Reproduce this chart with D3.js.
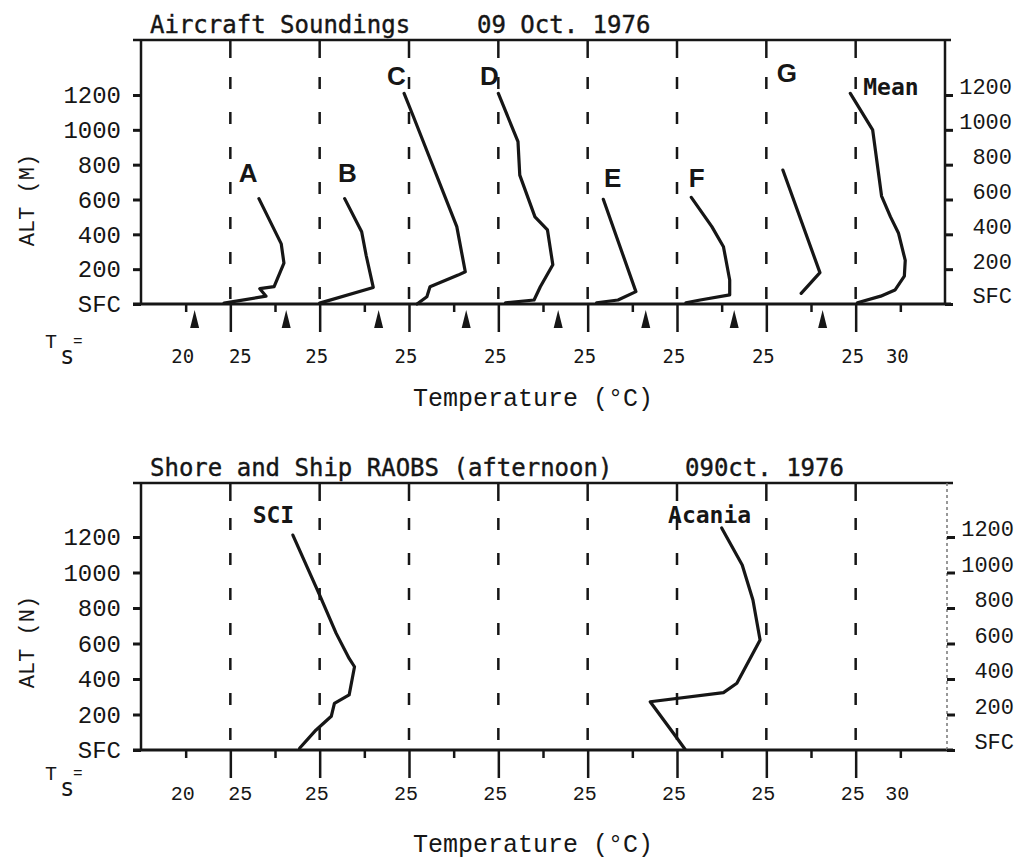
<!DOCTYPE html>
<html>
<head>
<meta charset="utf-8">
<script src="https://cdn.jsdelivr.net/npm/d3@7/dist/d3.min.js"></script>
<style>
  body { margin: 0; background: #fff; }
  svg { display: block; background: #fff; }
  text { fill: #161616; }
</style>
</head>
<body>
<svg id="chart" width="1023" height="860"></svg>
<script>
// Each sounding: [temperature (°C) read against its own column's "25" line, altitude (m)]
// Columns are stacked 10 °C apart along one shared temperature axis.
const columns = ['A', 'B', 'C', 'D', 'E', 'F', 'G', 'Mean'];
const profileA = [[24.3, 5], [29.0, 45], [28.3, 88], [29.9, 100], [31.0, 235], [30.7, 345], [28.2, 605]];
const profileB = [[25.0, 5], [31.0, 95], [30.2, 280], [29.7, 415], [27.8, 605]];
const profileC = [[25.9, 0], [27.0, 42], [27.35, 99], [30.5, 166], [31.3, 185], [30.35, 444], [25.5, 1075], [24.45, 1209]];
const profileD = [[25.8, 7], [29.0, 23], [29.7, 99], [31.1, 225], [30.5, 425], [29.1, 500], [27.4, 740], [27.2, 932], [25.0, 1209]];
const profileE = [[26.0, 7], [28.4, 23], [30.4, 71], [26.75, 601]];
const profileF = [[26.0, 7], [27.6, 23], [30.9, 52], [30.9, 138], [30.2, 329], [28.9, 444], [26.6, 612]];
const profileG = [[28.9, 61], [31.0, 180], [26.85, 769]];
const profileMean = [[25.2, 7], [27.8, 45], [29.4, 80], [30.45, 160], [30.55, 250], [29.8, 406], [28.9, 500], [27.9, 620], [26.9, 1000], [24.4, 1209]];
const aircraftProfiles = [profileA, profileB, profileC, profileD, profileE, profileF, profileG, profileMean];

// sea surface temperature (Ts) under each aircraft column
const surfaceTemps = [21.0, 21.25, 21.6, 21.4, 21.7, 21.5, 21.4, 21.3];

// afternoon radiosondes
const raobNames = ['SCI', 'Acania'];
const raobColumns = [1, 5];
const profileSCI = [[22.75, 10], [24.6, 113], [26.3, 190], [26.65, 263], [28.3, 310], [28.9, 469], [28.3, 516], [26.85, 657], [25.0, 873], [22.0, 1211]];
const profileAcania = [[25.9, 4], [24.6, 94], [22.0, 272], [30.2, 323], [31.7, 376], [34.3, 620], [33.5, 845], [32.3, 1042], [30.0, 1251]];
const raobProfiles = [profileSCI, profileAcania];

// label anchors in data units [temperature in column, altitude]
const aircraftLabelAt = [[27.0, 700], [28.1, 700], [23.6, 1257], [24.0, 1257], [27.8, 672], [27.2, 672], [27.3, 1274], [25.85, 1200]];
const raobLabelAt = [[17.5, 1279], [24.0, 1279]];

const altTicks = [0, 200, 400, 600, 800, 1000, 1200];
const altTickLabels = ['SFC', '200', '400', '600', '800', '1000', '1200'];
const columnLines = [25, 35, 45, 55, 65, 75, 85, 95];
const minorTicks = [20, 30, 40, 50, 60, 70, 80, 90, 100];
const tempTickValues = [20, 25, 35, 45, 55, 65, 75, 85, 95, 100];
const tempTickLabels = ['20', '25', '25', '25', '25', '25', '25', '25', '25', '30'];

const ink = '#161616';
const svg = d3.select('#chart');
const x = d3.scaleLinear().domain([15, 105]).range([141, 945]);
const shift = (k) => 10 * k;

const drawPanel = (p) => {
  const y = d3.scaleLinear().domain([0, 1200]).range([p.sfc, p.y1200]);
  const g = svg.append('g');

  // titles
  g.append('text').attr('x', 150).attr('y', p.titleY)
    .style('font-family', 'DejaVu Sans Mono').style('font-size', '24px')
    .attr('stroke', ink).attr('stroke-width', 0.4)
    .text(p.title1);
  g.append('text').attr('x', p.title2X).attr('y', p.titleY)
    .style('font-family', 'DejaVu Sans Mono').style('font-size', '24px')
    .attr('stroke', ink).attr('stroke-width', 0.4)
    .text(p.title2);

  // column reference lines: solid stub at top, dashes, long tick below axis
  columnLines.forEach((v) => {
    g.append('line').attr('x1', x(v)).attr('x2', x(v)).attr('y1', p.top).attr('y2', p.top + 18)
      .attr('stroke', ink).attr('stroke-width', 2.5);
    g.append('line').attr('x1', x(v)).attr('x2', x(v)).attr('y1', p.dashStart).attr('y2', p.sfc)
      .attr('stroke', ink).attr('stroke-width', 2.5).attr('stroke-dasharray', '12,23');
  });

  // bottom axis ticks
  g.append('g').attr('transform', `translate(0,${p.sfc})`)
    .call(d3.axisBottom(x).tickValues(columnLines).tickSize(28).tickFormat(''))
    .call((a) => a.select('.domain').remove())
    .call((a) => a.selectAll('line').attr('stroke', ink).attr('stroke-width', 2.5));
  g.append('g').attr('transform', `translate(0,${p.sfc})`)
    .call(d3.axisBottom(x).tickValues(minorTicks).tickSize(8).tickFormat(''))
    .call((a) => a.select('.domain').remove())
    .call((a) => a.selectAll('line').attr('stroke', ink).attr('stroke-width', 2.5));

  // frame
  g.append('line').attr('x1', 133).attr('x2', p.right + 6).attr('y1', p.top).attr('y2', p.top)
    .attr('stroke', ink).attr('stroke-width', 2.5);
  g.append('line').attr('x1', 133).attr('x2', p.right + 6).attr('y1', p.sfc).attr('y2', p.sfc)
    .attr('stroke', ink).attr('stroke-width', 3);
  g.append('line').attr('x1', 141).attr('x2', 141).attr('y1', p.top).attr('y2', p.sfc)
    .attr('stroke', ink).attr('stroke-width', 2.5);
  g.append('line').attr('x1', p.right).attr('x2', p.right).attr('y1', p.top).attr('y2', p.sfc)
    .attr('stroke', p.rightColor).attr('stroke-width', p.rightWidth)
    .attr('stroke-dasharray', p.rightDash);

  // altitude axes
  g.append('g').attr('transform', 'translate(141,0)')
    .call(d3.axisLeft(y).tickValues(altTicks).tickSize(8).tickPadding(12)
      .tickFormat((d, i) => altTickLabels[i]))
    .call((a) => a.select('.domain').remove())
    .call((a) => a.selectAll('line').attr('stroke', ink).attr('stroke-width', 3))
    .call((a) => a.selectAll('text').attr('fill', ink)
      .style('font-family', 'Liberation Mono').style('font-size', '24px'));
  g.append('g').attr('transform', `translate(${p.right},0)`)
    .call(d3.axisRight(y).tickValues(altTicks).tickSize(8)
      .tickFormat((d, i) => altTickLabels[i]))
    .call((a) => a.select('.domain').remove())
    .call((a) => a.selectAll('line').attr('stroke', ink).attr('stroke-width', 3))
    .call((a) => a.selectAll('text').attr('fill', p.rightText).attr('x', 67).attr('dy', '-0.05em')
      .attr('text-anchor', 'end')
      .style('font-family', 'Liberation Mono').style('font-size', '22px'));

  // temperature labels
  g.selectAll('text.tlab').data(tempTickValues).enter().append('text')
    .attr('class', 'tlab')
    .attr('x', (d, i) => x(d) + (i === 1 ? 10 : -3))
    .attr('y', p.tickLabelY)
    .attr('text-anchor', 'middle')
    .style('font-family', p.tickFont).style('font-size', p.tickSize)
    .text((d, i) => tempTickLabels[i]);

  // Ts =
  g.append('text').attr('x', 45).attr('y', p.tsY)
    .style('font-family', 'Liberation Mono').style('font-size', '20px').text('T');
  g.append('text').attr('x', 60).attr('y', p.tsY + 16)
    .style('font-family', 'DejaVu Sans Mono').style('font-size', '24px').text('s');
  g.append('text').attr('x', 73).attr('y', p.tsY - 2)
    .style('font-family', 'Liberation Mono').style('font-size', '16px').text('=');

  // axis titles
  g.append('text').attr('transform', `translate(34,${p.altMid}) rotate(-90)`)
    .attr('text-anchor', 'middle')
    .style('font-family', 'Liberation Mono').style('font-size', '22px')
    .text(p.altLabel);
  g.append('text').attr('x', 413).attr('y', p.xTitleY)
    .style('font-family', 'Liberation Mono').style('font-size', '25px')
    .text('Temperature (°C)');

  // soundings
  const line = d3.line().x((d) => x(d[0])).y((d) => y(d[1]));
  p.profiles.forEach((prof, i) => {
    const k = p.cols[i];
    g.append('path')
      .attr('d', line(prof.map(([t, a]) => [t + shift(k), a])))
      .attr('fill', 'none').attr('stroke', ink).attr('stroke-width', 3.2)
      .attr('stroke-linejoin', 'round').attr('stroke-linecap', 'round');
    const [lt, la] = p.labelAt[i];
    const isMono = p.names[i].length > 1;
    g.append('text')
      .attr('x', x(lt + shift(k))).attr('y', y(la))
      .attr('text-anchor', isMono ? 'start' : 'middle')
      .style('font-family', isMono ? 'DejaVu Sans Mono' : 'Liberation Sans')
      .style('font-weight', 'bold')
      .style('font-size', isMono ? '23px' : '26px')
      .text(p.names[i]);
  });

  return y;
};

drawPanel({
  top: 40, sfc: 304, y1200: 95, right: 945, dashStart: 77,
  rightColor: ink, rightWidth: 2.5, rightDash: null, rightText: '#666',
  title1: 'Aircraft Soundings', title2: '09 Oct. 1976', title2X: 477, titleY: 33,
  tickFont: 'DejaVu Sans Mono', tickSize: '19px', tickLabelY: 363, tsY: 348,
  altLabel: 'ALT (M)', altMid: 200, xTitleY: 406,
  profiles: aircraftProfiles, cols: columns.map((c, i) => i), names: columns, labelAt: aircraftLabelAt,
});

// sea surface temperature markers under the top panel
svg.append('g').selectAll('path').data(surfaceTemps).enter().append('path')
  .attr('d', (d, i) => {
    const cx = x(d + shift(i));
    return `M${cx},310 L${cx + 4.5},328 L${cx - 4.5},328 Z`;
  })
  .attr('fill', ink);

drawPanel({
  top: 483, sfc: 750, y1200: 537, right: 947, dashStart: 518,
  rightColor: '#777', rightWidth: 1.5, rightDash: '3,3', rightText: '#999',
  title1: 'Shore and Ship RAOBS (afternoon)', title2: '090ct. 1976', title2X: 685, titleY: 476,
  tickFont: 'Liberation Mono', tickSize: '20px', tickLabelY: 800, tsY: 780,
  altLabel: 'ALT (N)', altMid: 642, xTitleY: 852,
  profiles: raobProfiles, cols: raobColumns, names: raobNames, labelAt: raobLabelAt,
});
</script>
</body>
</html>
